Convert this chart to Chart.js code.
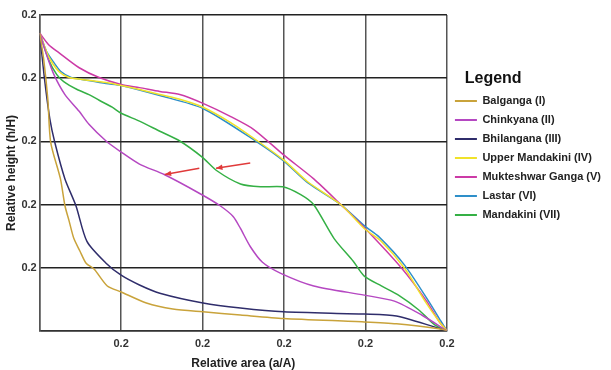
<!DOCTYPE html>
<html>
<head>
<meta charset="utf-8">
<script src="https://cdn.jsdelivr.net/npm/chart.js@4.4.1/dist/chart.umd.min.js"></script>
<style>
  html, body { margin: 0; padding: 0; background: #fff; }
  #wrap { width: 611px; height: 370px; }
</style>
</head>
<body>
<div id="wrap"><canvas id="myChart" width="611" height="370"></canvas></div>
<script>
const seriesNames = ['Balganga (I)', 'Chinkyana (II)', 'Bhilangana (III)', 'Upper Mandakini (IV)',
    'Mukteshwar Ganga (V)', 'Lastar (VI)', 'Mandakini (VII)'];
const seriesColors = ['#c9a33b', '#b548c2', '#2f2d6b', '#f0e22a', '#cc3aa6', '#2e8fc9', '#35b045'];

const xTickLabels = ['', '0.2', '0.2', '0.2', '0.2', '0.2'];
const yTickLabels = ['', '0.2', '0.2', '0.2', '0.2', '0.2'];

// relative area (a/A) and relative height (h/H) for each basin
const balgangaArea = [0, 0.010, 0.020, 0.027, 0.051, 0.062, 0.072, 0.084, 0.099, 0.114, 0.134, 0.166, 0.2, 0.262, 0.327, 0.401, 0.493, 0.599, 0.797, 0.876, 0.988, 1];
const balgangaHeight = [0.943, 0.858, 0.733, 0.597, 0.481, 0.396, 0.349, 0.292, 0.252, 0.214, 0.195, 0.142, 0.123, 0.088, 0.069, 0.060, 0.050, 0.039, 0.028, 0.022, 0.005, 0];

const chinkyanaArea = [0, 0.017, 0.035, 0.062, 0.097, 0.121, 0.163, 0.2, 0.245, 0.307, 0.394, 0.443, 0.475, 0.493, 0.517, 0.547, 0.592, 0.673, 0.797, 0.871, 0.938, 1];
const chinkyanaHeight = [0.943, 0.874, 0.811, 0.748, 0.695, 0.654, 0.601, 0.566, 0.528, 0.494, 0.434, 0.396, 0.362, 0.324, 0.267, 0.217, 0.182, 0.142, 0.113, 0.094, 0.050, 0];

const bhilanganaArea = [0, 0.012, 0.025, 0.037, 0.062, 0.089, 0.116, 0.163, 0.2, 0.245, 0.295, 0.401, 0.493, 0.599, 0.797, 0.876, 1];
const bhilanganaHeight = [0.943, 0.796, 0.670, 0.597, 0.481, 0.396, 0.283, 0.214, 0.176, 0.145, 0.119, 0.088, 0.072, 0.060, 0.053, 0.047, 0];

const upperMandakiniArea = [0, 0.022, 0.047, 0.072, 0.104, 0.163, 0.2, 0.245, 0.295, 0.344, 0.401, 0.468, 0.535, 0.599, 0.658, 0.740, 0.797, 0.839, 0.896, 0.946, 0.980, 1];
const upperMandakiniHeight = [0.943, 0.868, 0.821, 0.802, 0.796, 0.786, 0.777, 0.764, 0.748, 0.733, 0.708, 0.660, 0.601, 0.541, 0.472, 0.399, 0.324, 0.283, 0.198, 0.094, 0.031, 0];

const mukteshwarArea = [0, 0.022, 0.047, 0.097, 0.146, 0.2, 0.245, 0.295, 0.344, 0.401, 0.468, 0.525, 0.599, 0.673, 0.740, 0.797, 0.889, 0.950, 0.980, 1];
const mukteshwarHeight = [0.943, 0.906, 0.881, 0.833, 0.802, 0.780, 0.770, 0.758, 0.748, 0.720, 0.679, 0.638, 0.557, 0.481, 0.399, 0.327, 0.198, 0.094, 0.031, 0];

const lastarArea = [0, 0.017, 0.035, 0.052, 0.077, 0.104, 0.163, 0.2, 0.295, 0.401, 0.535, 0.599, 0.658, 0.740, 0.797, 0.832, 0.896, 0.955, 0.985, 1];
const lastarHeight = [0.943, 0.884, 0.849, 0.821, 0.802, 0.796, 0.783, 0.777, 0.745, 0.704, 0.597, 0.538, 0.469, 0.399, 0.333, 0.299, 0.208, 0.094, 0.031, 0];

const mandakiniArea = [0, 0.022, 0.042, 0.059, 0.092, 0.121, 0.146, 0.178, 0.2, 0.245, 0.295, 0.344, 0.399, 0.436, 0.493, 0.542, 0.597, 0.641, 0.673, 0.723, 0.770, 0.797, 0.839, 0.881, 0.931, 0.970, 1];
const mandakiniHeight = [0.943, 0.858, 0.811, 0.789, 0.764, 0.748, 0.730, 0.708, 0.689, 0.664, 0.632, 0.601, 0.550, 0.506, 0.465, 0.456, 0.456, 0.431, 0.399, 0.292, 0.220, 0.173, 0.142, 0.113, 0.066, 0.019, 0];

// red arrows drawn on the plot, tail and head in data units
const arrowTails = [[0.517, 0.531], [0.392, 0.515]];
const arrowHeads = [[0.433, 0.515], [0.307, 0.495]];

const areas = [balgangaArea, chinkyanaArea, bhilanganaArea, upperMandakiniArea, mukteshwarArea, lastarArea, mandakiniArea];
const heights = [balgangaHeight, chinkyanaHeight, bhilanganaHeight, upperMandakiniHeight, mukteshwarHeight, lastarHeight, mandakiniHeight];

function toPoints(xs, ys) {
    return xs.map((x, i) => ({ x: x, y: ys[i] }));
}

const arrowPlugin = {
    id: 'arrows',
    afterDatasetsDraw(chart) {
        const { ctx, scales: { x, y } } = chart;
        ctx.save();
        ctx.strokeStyle = '#e03a3a';
        ctx.fillStyle = '#e03a3a';
        ctx.lineWidth = 1.5;
        arrowTails.forEach((t, i) => {
            const x1 = x.getPixelForValue(t[0]), y1 = y.getPixelForValue(t[1]);
            const x2 = x.getPixelForValue(arrowHeads[i][0]), y2 = y.getPixelForValue(arrowHeads[i][1]);
            const ang = Math.atan2(y2 - y1, x2 - x1);
            ctx.beginPath();
            ctx.moveTo(x1, y1);
            ctx.lineTo(x2, y2);
            ctx.stroke();
            ctx.beginPath();
            ctx.moveTo(x2, y2);
            ctx.lineTo(x2 - 7 * Math.cos(ang - 0.4), y2 - 7 * Math.sin(ang - 0.4));
            ctx.lineTo(x2 - 7 * Math.cos(ang + 0.4), y2 - 7 * Math.sin(ang + 0.4));
            ctx.closePath();
            ctx.fill();
        });
        ctx.restore();
    }
};

Chart.defaults.font.family = '"Liberation Sans", Arial, sans-serif';

const ctx = document.getElementById('myChart');
new Chart(ctx, {
    type: 'line',
    data: {
        datasets: seriesNames.map((name, i) => ({
            label: name,
            data: toPoints(areas[i], heights[i]),
            borderColor: seriesColors[i],
            backgroundColor: seriesColors[i],
            borderWidth: 1.5,
            pointRadius: 0,
            tension: 0.25,
            fill: false
        }))
    },
    options: {
        responsive: false,
        animation: false,
        layout: { padding: { top: 15 } },
        plugins: {
            tooltip: { enabled: false },
            legend: {
                position: 'right',
                align: 'start',
                maxWidth: 166,
                title: {
                    display: true,
                    text: '    Legend',
                    color: '#111',
                    position: 'start',
                    font: { size: 16, weight: 'bold', lineHeight: 1 },
                    padding: { top: 56, bottom: 0.5 }
                },
                labels: {
                    boxWidth: 22,
                    boxHeight: 2,
                    padding: 8,
                    color: '#222',
                    font: { size: 11, weight: 'bold' },
                    generateLabels: chart => Chart.defaults.plugins.legend.labels.generateLabels(chart)
                        .map(l => ({ ...l, lineWidth: 0 }))
                }
            }
        },
        scales: {
            x: {
                type: 'linear',
                min: 0,
                max: 1,
                ticks: {
                    stepSize: 0.2,
                    padding: 7,
                    color: '#333',
                    font: { size: 11, weight: 'bold' },
                    maxRotation: 0,
                    callback: (v, i) => xTickLabels[i]
                },
                grid: { color: '#555', lineWidth: 1.5, drawTicks: false },
                border: { color: '#333', width: 1.5 },
                title: {
                    display: true,
                    text: 'Relative area (a/A)',
                    color: '#222',
                    font: { size: 12, weight: 'bold', lineHeight: 1 },
                    padding: { top: 0, bottom: 0 }
                }
            },
            y: {
                min: 0,
                max: 1,
                ticks: {
                    stepSize: 0.2,
                    padding: 3,
                    color: '#333',
                    font: { size: 11, weight: 'bold' },
                    callback: (v, i) => yTickLabels[i]
                },
                grid: { color: '#222', lineWidth: 1.5, drawTicks: false },
                border: { color: '#555', width: 1.5 },
                title: {
                    display: true,
                    text: 'Relative height (h/H)',
                    color: '#222',
                    font: { size: 12, weight: 'bold' },
                    padding: { top: 4, bottom: 0 }
                }
            }
        }
    },
    plugins: [arrowPlugin]
});
</script>
</body>
</html>
